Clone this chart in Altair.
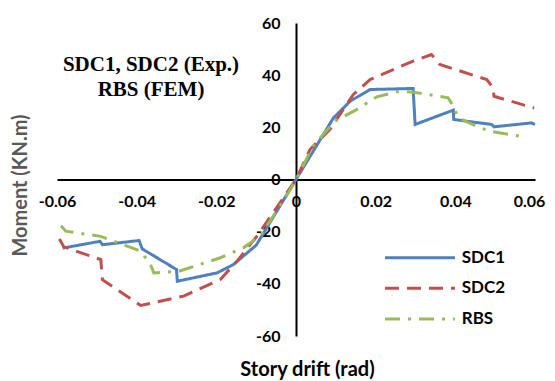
import altair as alt
import pandas as pd

series_names = ["SDC1", "SDC2", "RBS"]

sdc1_x = [-0.0586, -0.0492, -0.0486, -0.0394, -0.0386, -0.0300, -0.0298, -0.0198, -0.0157, -0.0100,
          0.0, 0.0094, 0.0136, 0.0186, 0.0294, 0.0299, 0.0395, 0.0396, 0.0491, 0.0497, 0.0591, 0.06]
sdc1_y = [-26.3, -23.7, -25.0, -23.4, -26.6, -34.5, -39.0, -35.8, -32.6, -25.2,
          0.0, 23.6, 30.0, 34.5, 34.9, 21.1, 26.6, 23.0, 21.1, 20.2, 21.7, 21.1]

sdc2_x = [-0.0594, -0.0583, -0.049, -0.0486, -0.039, -0.0294, -0.0282, -0.019, -0.0148, -0.0098, -0.004,
          0.0, 0.0035, 0.0085, 0.0144, 0.0186, 0.0294, 0.034, 0.0361, 0.0479, 0.0495, 0.0497, 0.0598]
sdc2_y = [-22.8, -25.8, -30.7, -38.4, -48.3, -45.1, -44.7, -38.3, -31.3, -21.7, -8.9,
          0.0, 11.5, 19.2, 32.6, 38.3, 45.4, 47.9, 44.1, 38.3, 35.1, 31.9, 27.4]

rbs_x = [-0.059, -0.0578, -0.049, -0.039, -0.0365, -0.0357, -0.0294, -0.019, -0.0132, -0.009, -0.0019,
         0.0, 0.0043, 0.0098, 0.0152, 0.0203, 0.026, 0.0294, 0.0382, 0.0395, 0.0407, 0.0453, 0.0487, 0.057]
rbs_y = [-17.7, -19.8, -21.8, -27.5, -32.6, -35.8, -35.2, -30.0, -26.2, -21.7, -5.1,
         0.0, 12.8, 22.4, 26.8, 31.7, 33.9, 33.5, 31.3, 28.1, 23.7, 20.4, 18.5, 16.4]

x_ticks = [-0.06, -0.04, -0.02, 0, 0.02, 0.04, 0.06]
y_ticks = [-60, -40, -20, 0, 20, 40, 60]
title_lines = ["SDC1, SDC2 (Exp.)", "RBS (FEM)"]

rows = []
for name, xs, ys in [("SDC1", sdc1_x, sdc1_y), ("SDC2", sdc2_x, sdc2_y), ("RBS", rbs_x, rbs_y)]:
    for i, (x, y) in enumerate(zip(xs, ys)):
        rows.append({"series": name, "drift": x, "moment": y, "order": i})
df = pd.DataFrame(rows)

colors = ["#4F81BD", "#C0504D", "#9BBB59"]
dashes = [[1, 0], [14, 8], [15, 8, 3, 8]]

W, H = 478, 313
FONT = "Lato"

x_scale = alt.Scale(domain=[-0.06, 0.06], nice=False, zero=False)
y_scale = alt.Scale(domain=[-60, 60], nice=False, zero=False)

x_axis = alt.Axis(
    values=x_ticks, labelExpr="'' + datum.value", orient="bottom", offset=-H / 2,
    domainColor="black", domainWidth=2, ticks=False, grid=False,
    labelFont=FONT, labelFontWeight="bold", labelFontSize=16, labelColor="black",
    labelPadding=14, labelFlush=False, labelOverlap=False,
    labelOffset={"condition": {"test": "datum.value > 0.059", "value": -6}, "value": 0},
    title="Story drift (rad)", titleFont=FONT, titleFontSize=20, titleFontWeight="bold",
    titleColor="black", titleX=250, titleY=190, titleAlign="center", titleBaseline="middle",
)
y_axis = alt.Axis(
    values=y_ticks, labelExpr="'' + datum.value", orient="left", offset=-W / 2,
    domainColor="black", domainWidth=2, ticks=False, grid=False,
    labelFont=FONT, labelFontWeight="bold", labelFontSize=16, labelColor="black",
    labelPadding=16, labelFlush=False, labelOverlap=False,
    title="Moment (KN.m)", titleFont=FONT, titleFontSize=20, titleFontWeight="bold",
    titleColor="#595959", titleX=-276, titleY=162, titleAngle=270,
    titleAlign="center", titleBaseline="middle",
)

lines = alt.Chart(df).mark_line(strokeWidth=3).encode(
    x=alt.X("drift:Q", scale=x_scale, axis=x_axis),
    y=alt.Y("moment:Q", scale=y_scale, axis=y_axis),
    color=alt.Color("series:N", scale=alt.Scale(domain=series_names, range=colors), legend=None),
    strokeDash=alt.StrokeDash("series:N", scale=alt.Scale(domain=series_names, range=dashes), legend=None),
    order="order:Q",
)

title_df = pd.DataFrame({"t": ["\n".join(title_lines)]})
title = alt.Chart(title_df).mark_text(
    font="Liberation Serif", fontSize=21, fontWeight="bold", color="black",
    align="center", baseline="alphabetic", lineBreak="\n", lineHeight=25.3,
).encode(text="t:N", x=alt.value(94), y=alt.value(47.7))

legend_layers = []
leg_y = [234.7, 265.3, 296.0]
for name, c, d, ly in zip(series_names, colors, dashes, leg_y):
    ldf = pd.DataFrame({"series": [name]})
    legend_layers.append(
        alt.Chart(ldf).mark_rule(strokeWidth=3, color=c, strokeDash=d).encode(
            x=alt.value(328), x2=alt.value(398), y=alt.value(ly)
        )
    )
    legend_layers.append(
        alt.Chart(ldf).mark_text(
            font=FONT, fontSize=17, fontWeight="bold", color="black", align="left", baseline="middle"
        ).encode(text="series:N", x=alt.value(404.7), y=alt.value(ly))
    )

chart = alt.layer(lines, title, *legend_layers).properties(
    width=W, height=H,
    padding={"left": 49, "top": 15, "right": 12, "bottom": 45},
    autosize=alt.AutoSizeParams(type="none"),
).configure_view(stroke=None)

chart.save("out.html", embed_options={"renderer": "svg", "actions": False})
